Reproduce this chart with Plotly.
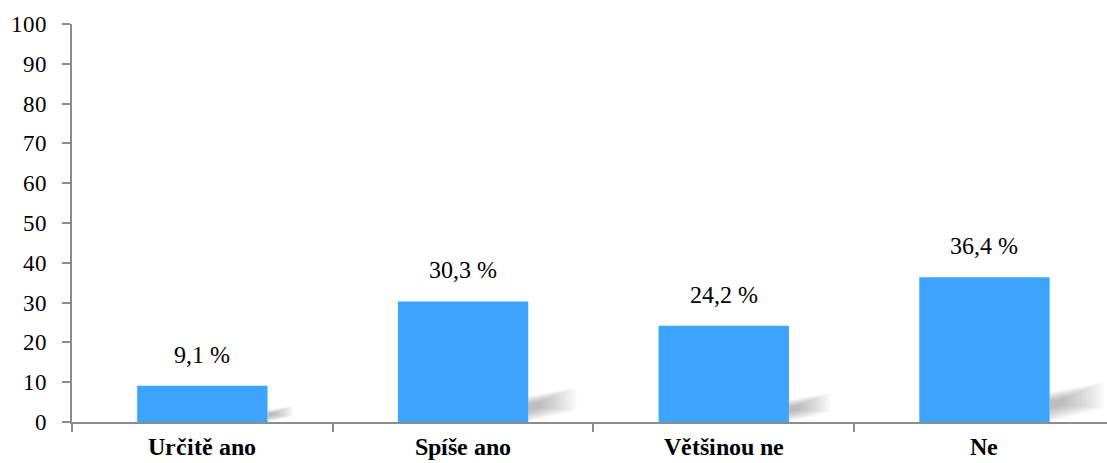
import base64
import glob
import json
import os
import plotly.graph_objects as go

categories = ["Určitě ano", "Spíše ano", "Většinou ne", "Ne"]
values = [9.1, 30.3, 24.2, 36.4]
y_ticks = [0, 10, 20, 30, 40, 50, 60, 70, 80, 90, 100]

BASE = "DejaVu Serif"


def find_font(name):
    for root in ["/usr/share/fonts", "/usr/local/share/fonts",
                 os.path.expanduser("~/.fonts"), os.path.expanduser("~/.local/share/fonts")]:
        hits = glob.glob(os.path.join(root, "**", name), recursive=True)
        if hits:
            return hits[0]
    return None


fig = go.Figure()
fig.add_trace(go.Bar(
    x=categories, y=values, width=0.5,
    marker=dict(color="#3CA4FC", line=dict(width=0)),
    hoverinfo="skip",
))

# value labels
for c, v in zip(categories, values):
    fig.add_annotation(x=c, y=v, text=f"{v:.1f}".replace(".", ",") + " %",
                       showarrow=False, yanchor="bottom", yshift=16,
                       font=dict(family=BASE, size=21, color="black"))

# soft blurred shadows to the right of each bar's base (decorative)
for i, v in enumerate(values):
    h = 2 + 0.22 * v
    w = 0.063 + 0.004 * v
    xr = i + 0.25
    cy = 0.45 * h
    layers = 12
    for k in range(layers):
        s = 1 - k / layers * 0.8
        pts = [(xr, 0), (xr, 0.75 * h), (xr + w, h), (xr + w, 0.35 * h)]
        pts = [(xr + (px - xr) * s, cy + (py - cy) * s) for px, py in pts]
        pts[0] = (xr, max(0.0, pts[0][1]))
        p = "M " + " L ".join(f"{px},{py}" for px, py in pts) + " Z"
        fig.add_shape(type="path", path=p, xref="x", yref="y",
                      fillcolor="rgba(60,60,60,0.03)", line=dict(width=0),
                      layer="below")

axis_common = dict(
    showline=True, linecolor="#8C8C8C", linewidth=2,
    ticks="outside", ticklen=8, tickcolor="#8C8C8C", tickwidth=2,
    showgrid=False, zeroline=False, automargin=False,
)

fig.update_layout(
    width=1107, height=463,
    margin=dict(l=72, r=0, t=24, b=41),
    plot_bgcolor="white", paper_bgcolor="white",
    showlegend=False,
    font=dict(family=BASE, color="black"),
    xaxis=dict(
        type="category", range=[-0.5, 3.47], tickson="boundaries",
        tickvals=categories, ticktext=[f"<b>{c}</b>" for c in categories],
        ticklabelstandoff=8,
        tickfont=dict(family=BASE, size=21, color="black"),
        **axis_common,
    ),
    yaxis=dict(
        range=[0, 100], tickvals=y_ticks, ticklabelstandoff=10,
        tickfont=dict(family=BASE, size=21, color="black"),
        **axis_common,
    ),
)

# If Liberation Serif files are present, embed them and switch to them once loaded
post = None
reg = find_font("LiberationSerif-Regular.ttf")
bold = find_font("LiberationSerif-Bold.ttf")
if reg and bold:
    with open(reg, "rb") as fh:
        r64 = base64.b64encode(fh.read()).decode()
    with open(bold, "rb") as fh:
        b64 = base64.b64encode(fh.read()).decode()
    upd = {
        "font.family": "EmbSerif",
        "xaxis.tickfont.family": "EmbSerif", "xaxis.tickfont.size": 24,
        "xaxis.ticklabelstandoff": 2,
        "yaxis.tickfont.family": "EmbSerif", "yaxis.tickfont.size": 23,
    }
    for i in range(len(values)):
        upd[f"annotations[{i}].font.family"] = "EmbSerif"
        upd[f"annotations[{i}].font.size"] = 24
    post = (
        "var gd=document.getElementById('{plot_id}');"
        "var fr=new FontFace('EmbSerif','url(data:font/ttf;base64," + r64 + ")',{weight:'400'});"
        "var fb=new FontFace('EmbSerif','url(data:font/ttf;base64," + b64 + ")',{weight:'700'});"
        "Promise.all([fr.load(),fb.load()]).then(function(){"
        "document.fonts.add(fr);document.fonts.add(fb);"
        "Plotly.relayout(gd," + json.dumps(upd) + ");}).catch(function(){});"
    )

fig.write_html("out.html", post_script=post)
